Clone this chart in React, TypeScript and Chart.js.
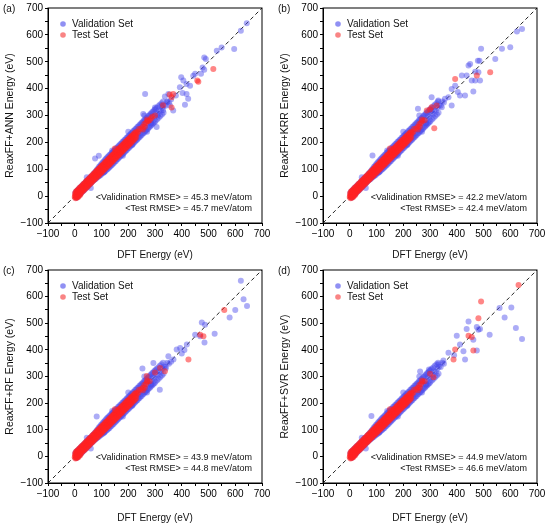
import React, { useEffect, useRef } from "react";
import { Chart, registerables } from "chart.js";

Chart.register(...registerables);

type Pt = [number, number];

const FONT = '"Liberation Sans", Arial, sans-serif';

const panelLabels = ["(a)", "(b)", "(c)", "(d)"];
const yTitles = [
  "ReaxFF+ANN Energy (eV)",
  "ReaxFF+KRR Energy (eV)",
  "ReaxFF+RF Energy (eV)",
  "ReaxFF+SVR Energy (eV)",
];
const valRmse = ["45.3", "42.2", "43.9", "44.9"];
const testRmse = ["45.7", "42.4", "44.8", "46.6"];
const diagonal = [-100, 700];

// dense validation band shared by all four panels
const coreValUpper: Pt[] = [
  [2, 12], [6, 17], [10, 22], [14, 25], [18, 30], [22, 33], [26, 38], [30, 41], [34, 46], [38, 49],
  [42, 54], [46, 57], [50, 62], [54, 65], [58, 70], [62, 73], [66, 78], [70, 82], [74, 87], [78, 92],
  [82, 97], [86, 102], [90, 108], [94, 112], [98, 118], [102, 122], [106, 127], [110, 131], [114, 136],
  [118, 140], [122, 145], [126, 148], [130, 153], [134, 156], [138, 161], [142, 164], [146, 169],
  [150, 172], [154, 177], [158, 180], [162, 185], [166, 188], [170, 193], [174, 196], [178, 201],
  [182, 204], [186, 209], [190, 212], [194, 217], [198, 220], [202, 225], [206, 228], [210, 233],
  [214, 236], [218, 241], [222, 244], [226, 249], [230, 252], [234, 257], [238, 260], [242, 265],
  [246, 268], [250, 273], [254, 276], [258, 281], [262, 284], [266, 289], [270, 292], [274, 297],
  [278, 300], [282, 305], [286, 308], [290, 313], [294, 316], [298, 321], [302, 324], [306, 329],
  [312, 334], [318, 340], [324, 346], [330, 352],
];
const coreValLower: Pt[] = [
  [6, -6], [10, -3], [14, 2], [18, 6], [22, 10], [26, 14], [30, 18], [34, 22], [38, 26], [42, 30],
  [46, 34], [50, 38], [54, 42], [58, 46], [62, 50], [66, 54], [70, 58], [74, 62], [78, 64], [82, 68],
  [86, 71], [90, 74], [94, 77], [98, 80], [102, 84], [106, 86], [110, 90], [114, 93], [118, 97],
  [122, 100], [126, 104], [130, 107], [134, 112], [138, 115], [142, 120], [146, 123], [150, 128],
  [154, 131], [158, 136], [162, 139], [166, 144], [170, 147], [174, 152], [178, 155], [182, 160],
  [186, 163], [190, 168], [194, 171], [198, 176], [202, 179], [206, 184], [210, 187], [214, 192],
  [218, 195], [222, 200], [226, 203], [230, 208], [234, 211], [238, 216], [242, 219], [246, 224],
  [250, 227], [254, 232], [258, 235], [262, 240], [266, 243], [270, 248], [274, 251], [278, 256],
  [282, 259], [286, 264], [290, 267], [294, 272], [298, 275], [302, 280], [308, 286], [314, 292],
  [320, 298], [326, 304], [332, 310],
];
const coreValMid: Pt[] = [
  [232, 236], [238, 232], [244, 248], [250, 246], [256, 260], [262, 256], [268, 272], [274, 270],
  [280, 284], [286, 282], [292, 296], [298, 294], [304, 308], [310, 306], [316, 320], [322, 318],
  [328, 330], [334, 338], [340, 336], [346, 352], [352, 348], [110, 90], [215, 190], [260, 300],
  [285, 270], [270, 240], [200, 240], [180, 150], [140, 170], [60, 30], [45, 70],
];

// dense test band shared by all four panels
const coreTestUpper: Pt[] = [
  [1, 10], [4, 16], [7, 18], [10, 22], [13, 23], [16, 28], [19, 30], [22, 34], [25, 35], [28, 40],
  [31, 42], [34, 46], [37, 47], [40, 52], [43, 54], [46, 58], [49, 59], [52, 64], [55, 66], [58, 70],
  [61, 71], [64, 76], [67, 78], [70, 82], [73, 83], [76, 88], [79, 90], [82, 94], [85, 95], [88, 100],
  [91, 102], [94, 106], [97, 107], [100, 112], [103, 114], [106, 118], [109, 119], [112, 124],
  [115, 126], [118, 130], [121, 131], [124, 136], [127, 138], [130, 142], [133, 143], [136, 148],
  [139, 150], [142, 154], [145, 155], [148, 160], [151, 162], [154, 166], [157, 167], [160, 172],
  [163, 174], [166, 178], [169, 179], [172, 184], [175, 186], [178, 190], [181, 191], [184, 196],
  [187, 198], [190, 202], [193, 203], [196, 208], [199, 210], [202, 213], [205, 215], [208, 219],
  [211, 222], [214, 225], [218, 228], [222, 233], [226, 236], [230, 240],
];
const coreTestMid: Pt[] = [
  [2, 0], [5, 6], [8, 5], [11, 13], [14, 12], [17, 19], [20, 18], [23, 25], [26, 24], [29, 31],
  [32, 30], [35, 37], [38, 36], [41, 43], [44, 42], [47, 49], [50, 48], [53, 55], [56, 54], [59, 61],
  [62, 60], [65, 67], [68, 66], [71, 73], [74, 72], [77, 79], [80, 78], [83, 85], [86, 84], [89, 91],
  [92, 90], [95, 97], [98, 96], [101, 103], [104, 102], [107, 109], [110, 108], [113, 115], [116, 114],
  [119, 121], [122, 120], [125, 127], [128, 126], [131, 133], [134, 132], [137, 139], [140, 138],
  [143, 145], [146, 144], [149, 151], [152, 150], [155, 157], [158, 156], [161, 163], [164, 162],
  [167, 169], [170, 168], [173, 175], [176, 174], [179, 181], [182, 180], [185, 187], [188, 186],
  [191, 193], [194, 192], [197, 199], [200, 198], [203, 205], [206, 204], [209, 211], [212, 210],
  [216, 218], [220, 219], [224, 226], [228, 227], [233, 235], [238, 240],
];
const coreTestLower: Pt[] = [
  [3, -8], [6, -4], [9, -1], [12, 0], [15, 5], [18, 6], [21, 11], [24, 12], [27, 17], [30, 18],
  [33, 23], [36, 24], [39, 29], [42, 30], [45, 35], [48, 36], [51, 41], [54, 42], [57, 47], [60, 48],
  [63, 53], [66, 54], [69, 59], [72, 60], [75, 65], [78, 66], [81, 71], [84, 72], [87, 77], [90, 78],
  [93, 83], [96, 84], [99, 89], [102, 90], [105, 95], [108, 96], [111, 101], [114, 102], [117, 107],
  [120, 108], [123, 113], [126, 114], [129, 119], [132, 120], [135, 125], [138, 126], [141, 131],
  [144, 132], [147, 137], [150, 138], [153, 143], [156, 144], [159, 149], [162, 150], [165, 155],
  [168, 156], [171, 161], [174, 162], [177, 167], [180, 168], [183, 173], [186, 174], [189, 179],
  [192, 180], [195, 185], [198, 186], [201, 191], [204, 192], [207, 197], [210, 198], [214, 203],
  [218, 206], [222, 211], [226, 214], [230, 219],
];
const coreTestExtra: Pt[] = [
  [0, -3], [3, 3], [6, 10], [10, 7], [14, -2], [18, 14], [8, -6], [12, 16], [20, 4], [24, 22],
  [240, 250], [248, 252], [254, 258], [260, 268], [266, 272], [272, 280], [255, 248], [150, 177],
  [262, 258], [270, 285], [280, 282],
];

// sparse points and outliers of each panel
const tailValA: Pt[] = [
  [643, 643], [621, 615], [596, 547], [549, 553], [531, 541], [484, 516], [490, 510], [478, 479],
  [484, 470], [472, 455], [443, 448], [450, 455], [398, 442], [406, 430], [418, 417], [431, 411],
  [393, 405], [378, 374], [263, 380], [337, 371], [350, 380], [403, 384], [418, 380], [424, 362],
  [412, 340], [325, 337], [356, 337], [368, 319], [256, 306], [306, 257], [360, 360], [345, 350],
  [330, 320], [300, 330], [310, 300], [76, 140], [90, 150],
];
const tailTestA: Pt[] = [
  [518, 473], [462, 426], [458, 430], [368, 380], [362, 368], [355, 378], [362, 330], [300, 300],
  [290, 295], [275, 280], [285, 290], [330, 338],
];
const tailValB: Pt[] = [
  [644, 622], [625, 613], [600, 554], [569, 548], [544, 510], [491, 548], [479, 504], [485, 504],
  [450, 492], [444, 486], [419, 449], [437, 449], [469, 463], [481, 461], [469, 430], [487, 430],
  [456, 430], [462, 389], [412, 374], [431, 374], [404, 387], [381, 399], [394, 411], [356, 362],
  [369, 368], [381, 337], [331, 356], [344, 331], [306, 319], [306, 368], [85, 151], [255, 325],
];
const tailTestB: Pt[] = [
  [525, 461], [394, 436], [475, 449], [316, 253], [306, 331], [325, 337], [288, 319], [300, 322],
];
const tailValC: Pt[] = [
  [621, 660], [631, 590], [644, 565], [600, 550], [579, 522], [523, 461], [475, 503], [487, 494],
  [450, 457], [469, 451], [485, 428], [419, 420], [394, 407], [381, 401], [350, 376], [369, 364],
  [400, 386], [294, 351], [318, 250], [253, 330], [82, 150], [410, 400], [340, 330], [360, 355],
];
const tailTestC: Pt[] = [
  [559, 550], [469, 457], [481, 451], [425, 364], [319, 332], [337, 320], [269, 302], [300, 315],
];
const tailValD: Pt[] = [
  [604, 559], [644, 441], [621, 482], [560, 557], [579, 522], [523, 457], [475, 486], [481, 476],
  [487, 478], [444, 507], [437, 478], [462, 438], [475, 398], [400, 453], [412, 420], [425, 395],
  [431, 364], [369, 389], [296, 326], [331, 346], [81, 152], [263, 319], [390, 380], [350, 360],
];
const tailTestD: Pt[] = [
  [631, 644], [491, 582], [481, 519], [456, 448], [444, 453], [462, 398], [388, 364], [313, 297],
  [394, 401], [300, 310],
];

const coreVal = [...coreValUpper, ...coreValLower, ...coreValMid];
const coreTest = [...coreTestUpper, ...coreTestMid, ...coreTestLower, ...coreTestExtra];
const tailVal = [tailValA, tailValB, tailValC, tailValD];
const tailTest = [tailTestA, tailTestB, tailTestC, tailTestD];

const BLUE = "rgba(70, 70, 235, 0.45)";
const RED = "rgba(255, 35, 35, 0.55)";

const toXY = (pts: Pt[]) => pts.map(([x, y]) => ({ x, y }));

const Panel = ({ idx, xHeight }: { idx: number; xHeight: number }) => {
  const chartRef: any = useRef(null);
  const chartInstance: any = useRef(null);

  useEffect(() => {
    const ctx = chartRef.current.getContext("2d");

    const overlay = {
      id: "overlay",
      afterDraw(chart: any) {
        const c = chart.ctx;
        const a = chart.chartArea;
        c.save();
        c.strokeStyle = "#000";
        c.lineWidth = 1;
        c.strokeRect(a.left, a.top, a.right - a.left, a.bottom - a.top);
        c.fillStyle = "#111";
        c.textBaseline = "middle";
        c.font = `10px ${FONT}`;
        c.textAlign = "left";
        c.fillText(panelLabels[idx], 3, 9);
        // legend
        c.fillStyle = "rgba(70, 70, 235, 0.6)";
        c.beginPath();
        c.arc(a.left + 15, a.top + 16, 2.8, 0, Math.PI * 2);
        c.fill();
        c.fillStyle = "rgba(245, 50, 50, 0.6)";
        c.beginPath();
        c.arc(a.left + 15, a.top + 27, 2.8, 0, Math.PI * 2);
        c.fill();
        c.fillStyle = "#111";
        c.fillText("Validation Set", a.left + 24, a.top + 16);
        c.fillText("Test Set", a.left + 24, a.top + 27);
        // RMSE text
        c.font = `9px ${FONT}`;
        c.textAlign = "right";
        c.fillText(`<Validination RMSE> = ${valRmse[idx]} meV/atom`, a.right - 10, a.bottom - 25);
        c.fillText(`<Test RMSE> = ${testRmse[idx]} meV/atom`, a.right - 10, a.bottom - 14);
        c.restore();
      },
    };

    const axis = (title: string, isX: boolean) => ({
      type: "linear",
      min: -100,
      max: 700,
      afterFit: (s: any) => {
        if (isX) s.height = xHeight;
        else s.width = 48;
      },
      ticks: {
        stepSize: 50,
        autoSkip: false,
        maxRotation: 0,
        padding: 2,
        color: "#000",
        font: { family: FONT, size: 10 },
        callback: (v: any) => (v % 100 === 0 ? (v < 0 ? "\u2212" + Math.abs(v) : String(v)) : ""),
      },
      grid: { display: true, drawOnChartArea: false, drawTicks: true, tickLength: 3, color: "#000" },
      border: { display: true, color: "#000" },
      title: {
        display: true,
        text: title,
        color: "#111",
        font: { family: FONT, size: isX ? 10 : 10.5 },
        padding: isX ? { top: 0, bottom: 1 } : { top: 4, bottom: 0 },
      },
    });

    chartInstance.current = new Chart(ctx, {
      type: "scatter",
      data: {
        datasets: [
          {
            label: "Validation Set",
            data: toXY([...coreVal, ...tailVal[idx]]),
            backgroundColor: BLUE,
            borderWidth: 0,
            pointRadius: 3,
            order: 2,
          },
          {
            label: "Test Set",
            data: toXY([...coreTest, ...tailTest[idx]]),
            backgroundColor: RED,
            borderWidth: 0,
            pointRadius: 3,
            order: 1,
          },
          {
            label: "y = x",
            data: diagonal.map((v) => ({ x: v, y: v })),
            showLine: true,
            borderColor: "#222",
            borderWidth: 1,
            borderDash: [4, 3],
            pointRadius: 0,
            order: 3,
          },
        ],
      },
      options: {
        animation: false,
        responsive: true,
        maintainAspectRatio: false,
        layout: { padding: { top: 7, right: 13, left: 0, bottom: 0 } },
        plugins: { legend: { display: false }, tooltip: { enabled: false } },
        scales: {
          x: axis("DFT Energy (eV)", true),
          y: axis(yTitles[idx], false),
        },
      } as any,
      plugins: [overlay],
    });

    return () => {
      if (chartInstance.current) {
        chartInstance.current.destroy();
      }
    };
  }, [idx, xHeight]);

  return (
    <div style={{ position: "relative", width: 275, height: xHeight === 39 ? 262 : 263 }}>
      <canvas ref={chartRef}></canvas>
    </div>
  );
};

const App = () => {
  return (
    <div
      style={{
        position: "absolute",
        left: 0,
        top: 0,
        width: 550,
        height: 525,
        background: "#fff",
        display: "grid",
        gridTemplateColumns: "275px 275px",
        gridTemplateRows: "262px 263px",
      }}
    >
      <Panel idx={0} xHeight={39} />
      <Panel idx={1} xHeight={39} />
      <Panel idx={2} xHeight={42} />
      <Panel idx={3} xHeight={42} />
    </div>
  );
};

export default App;
